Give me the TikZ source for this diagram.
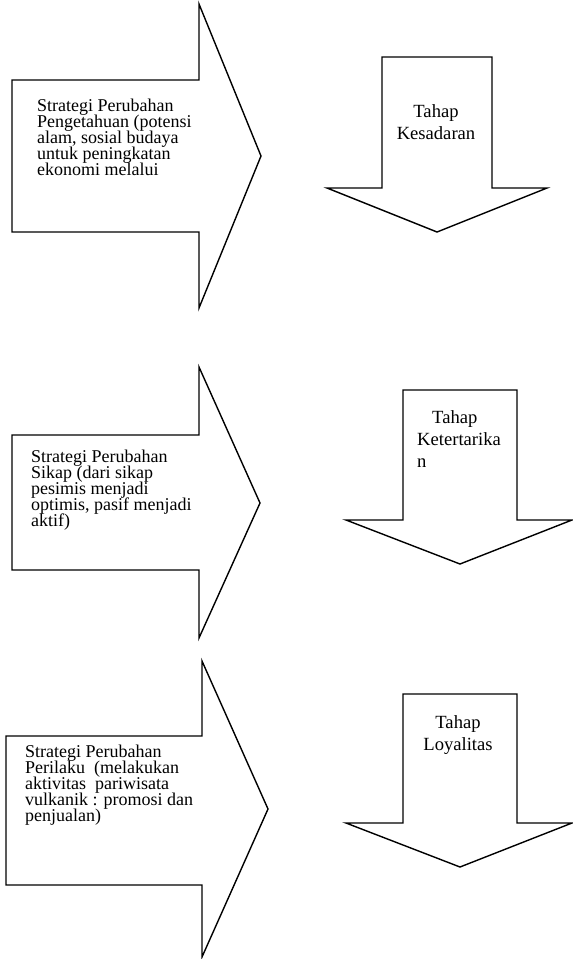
\documentclass[tikz,border=0pt]{standalone}
\usepackage{fontspec}
\setmainfont{Liberation Serif}
% fixed baseline distance, even where glyphs of adjacent lines come close
\newcommand\fixedlinegap{\lineskiplimit=-50bp\relax\lineskip=0bp\relax}
\begin{document}
\begin{tikzpicture}[x=1bp,y=-1bp,
  shapeline/.style={draw=black,line width=1.4bp,fill=white},
  sidetext/.style={anchor=north west,inner sep=0pt,align=left,
    font=\fontsize{18bp}{16bp}\selectfont\fixedlinegap},
  stagetext/.style={inner sep=0pt,
    font=\fontsize{18.6bp}{22bp}\selectfont\fixedlinegap}]
\useasboundingbox (0,0) rectangle (573,959);
\fill[white] (0,0) rectangle (573,959);

% right-pointing strategy arrows
\draw[shapeline] (12,80) -- (199,80) -- (199,4) -- (261,156) -- (199,308)
  -- (199,232) -- (12,232) -- cycle;
\draw[shapeline] (12,435) -- (199,435) -- (199,367) -- (260,503) -- (199,638)
  -- (199,570) -- (12,570) -- cycle;
\draw[shapeline] (6,736) -- (202,736) -- (202,661) -- (268,809) -- (202,957)
  -- (202,885) -- (6,885) -- cycle;

% downward stage arrows
\draw[shapeline] (382,57) -- (492,57) -- (492,188) -- (547,188) -- (437,232)
  -- (327,188) -- (382,188) -- cycle;
\draw[shapeline] (403,390) -- (517,390) -- (517,520) -- (572,520) -- (460,564)
  -- (346,520) -- (403,520) -- cycle;
\draw[shapeline] (403,694) -- (517,694) -- (517,823) -- (572,823) -- (460,867)
  -- (346,823) -- (403,823) -- cycle;

% strategy texts
\node[sidetext] (s1) at (37,99) {Strategi Perubahan\\Pengetahuan (potensi\\alam, sosial budaya\\untuk peningkatan\\ekonomi melalui};
\node[sidetext] (s2) at (31,449.7) {Strategi Perubahan\\Sikap (dari sikap\\pesimis menjadi\\optimis, pasif menjadi\\aktif)};
\node[sidetext] (s3) at (25,744.7) {Strategi Perubahan\\Perilaku\ \ (melakukan\\aktivitas\ \ pariwisata\\vulkanik : promosi dan\\penjualan)};

% stage texts
\node[stagetext,anchor=north,align=center] (k1) at (436,104.3) {Tahap\\Kesadaran};
\node[stagetext,anchor=north west,align=left] (k2) at (417,410.3) {\hspace*{15bp}Tahap\\Ketertarika\\n};
\node[stagetext,anchor=north,align=center] (k3) at (458,715.3) {Tahap\\Loyalitas};
\end{tikzpicture}
\end{document}
